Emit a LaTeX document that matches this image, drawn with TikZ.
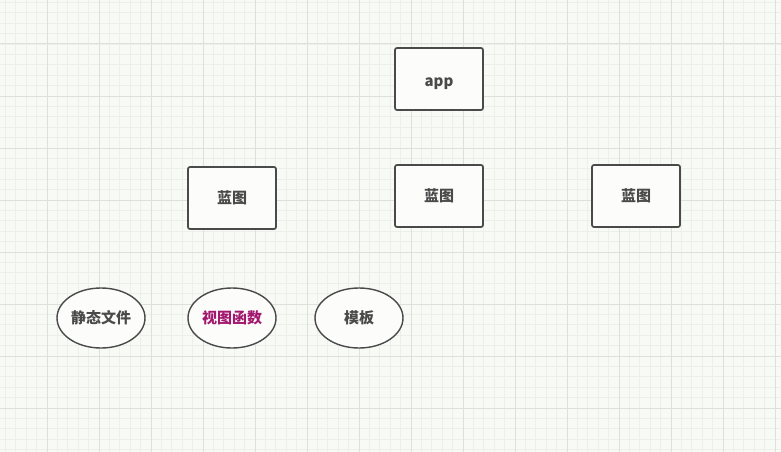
\documentclass[tikz,border=0pt]{standalone}
\usepackage{fontspec}
\usetikzlibrary{shapes.geometric}
\newfontfamily\cjk{Noto Sans CJK SC}
\definecolor{paper}{HTML}{F8FAF5}
\definecolor{gridfine}{HTML}{EDEFEA}
\definecolor{gridmajor}{HTML}{DEE0DB}
\definecolor{ink}{HTML}{4A4A4A}
\definecolor{plum}{HTML}{A3186F}

\begin{document}
\begin{tikzpicture}[x=1pt,y=-1pt,font=\cjk\bfseries\fontsize{15}{17}\selectfont,
  bpbox/.style={draw=ink,line width=1.7pt,fill=white!60!paper,rounded corners=2pt,
    minimum width=88pt,minimum height=62pt,inner sep=0pt,text=ink},
  partell/.style={ellipse,draw=ink,line width=1.4pt,fill=white!60!paper,
    minimum width=88pt,minimum height=60pt,inner sep=0pt,text=ink}]
\useasboundingbox (0,0) rectangle (781,452);
\fill[paper] (0,0) rectangle (781,452);
\begin{scope}
\clip (0,0) rectangle (781,452);
\draw[gridfine,line width=0.8pt,shift={(-5,-8)}] (0,0) grid[step=10.4pt] (800,470);
\draw[gridmajor,line width=1pt,shift={(-5,-8)}] (0,0) grid[step=52pt] (800,470);
\end{scope}
% app and its blueprints
\node[bpbox,text height=14pt,text depth=0pt] (app) at (439,79) {app};
\node[bpbox] (bpa) at (232,198) {蓝图};
\node[bpbox] (bpb) at (439,196) {蓝图};
\node[bpbox] (bpc) at (636,196) {蓝图};
% what a blueprint holds
\node[partell] (static) at (101,318) {静态文件};
\node[partell,text=plum] (views) at (232,318) {视图函数};
\node[partell] (tmpl) at (359,318) {模板};
\end{tikzpicture}
\end{document}
